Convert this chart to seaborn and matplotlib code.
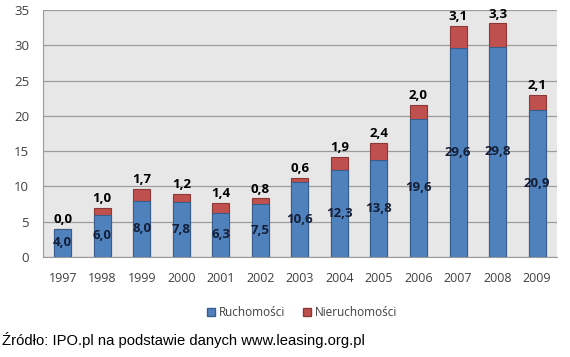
import matplotlib
matplotlib.use("Agg")
import matplotlib.pyplot as plt
import numpy as np
import pandas as pd
import seaborn as sns
from matplotlib.patches import Patch

YEARS = ["1997", "1998", "1999", "2000", "2001", "2002", "2003",
         "2004", "2005", "2006", "2007", "2008", "2009"]
RUCHOMOSCI = [4.0, 6.0, 8.0, 7.8, 6.3, 7.5, 10.6, 12.3, 13.8, 19.6, 29.6, 29.8, 20.9]
NIERUCHOMOSCI = [0.0, 1.0, 1.7, 1.2, 1.4, 0.8, 0.6, 1.9, 2.4, 2.0, 3.1, 3.3, 2.1]
Y_TICKS = [0, 5, 10, 15, 20, 25, 30, 35]

BLUE = "#4F81BD"
BLUE_EDGE = "#385D8A"
RED = "#C0504D"
RED_EDGE = "#8C3836"


def fmt(v):
    return f"{v:.1f}".replace(".", ",")


def main():
    sns.set_style("white")
    plt.rcParams["font.family"] = ["Open Sans", "DejaVu Sans"]

    df = pd.DataFrame({
        "Rok": YEARS,
        "Ruchomości": RUCHOMOSCI,
        "Nieruchomości": NIERUCHOMOSCI,
    })
    df["Razem"] = df["Ruchomości"] + df["Nieruchomości"]

    fig = plt.figure(figsize=(5.70, 3.57), dpi=100)
    ax = fig.add_axes([0.0754, 0.280, 0.9016, 0.692])
    ax.set_facecolor("#E7E7E7")

    sns.barplot(data=df, x="Rok", y="Razem", color=RED, saturation=1,
                width=0.43, edgecolor=RED_EDGE, linewidth=0.8, ax=ax, zorder=3)
    sns.barplot(data=df, x="Rok", y="Ruchomości", color=BLUE, saturation=1,
                width=0.43, edgecolor=BLUE_EDGE, linewidth=0.8, ax=ax, zorder=4)

    for i, (b, r, t) in enumerate(zip(df["Ruchomości"], df["Nieruchomości"], df["Razem"])):
        ax.text(i, b / 2, fmt(b), ha="center", va="center", fontsize=9.5,
                fontweight="bold", color="#141E36", zorder=5)
        ax.text(i, t + 0.4, fmt(r), ha="center", va="bottom", fontsize=9.5,
                fontweight="bold", color="black", zorder=5)

    ax.set_ylim(0, 35)
    ax.set_xlim(-0.5, len(YEARS) - 0.5)
    ax.set_yticks(Y_TICKS)
    ax.set_yticklabels([str(v) for v in Y_TICKS], fontsize=9.5, color="#404040")
    ax.set_xticks(np.arange(len(YEARS)))
    ax.set_xticklabels(YEARS, fontsize=9, color="#404040")
    ax.tick_params(axis="x", length=0, pad=11)
    ax.set_xticks(np.arange(len(YEARS) + 1) - 0.5, minor=True)
    ax.tick_params(axis="x", which="minor", length=4, color="#9A9A9A", direction="out")
    ax.tick_params(axis="y", length=4, color="#9A9A9A", direction="out", pad=6)
    ax.set_xlabel("")
    ax.set_ylabel("")

    ax.yaxis.grid(True, color="#9C9C9C", linewidth=0.9, zorder=1)
    ax.set_axisbelow(True)
    for side in ["top", "right"]:
        ax.spines[side].set_visible(False)
    ax.spines["left"].set_color("#9A9A9A")
    ax.spines["bottom"].set_color("#9A9A9A")

    handles = [Patch(facecolor=BLUE, edgecolor=BLUE_EDGE, label="Ruchomości"),
               Patch(facecolor=RED, edgecolor=RED_EDGE, label="Nieruchomości")]
    fig.legend(handles=handles, loc="center", bbox_to_anchor=(0.53, 0.125), ncol=2,
               frameon=False, fontsize=8.5, handlelength=0.7, handleheight=0.7,
               handletextpad=0.3, columnspacing=1.5, labelcolor="#404040")

    fig.text(0.004, 0.035, "Źródło: IPO.pl na podstawie danych www.leasing.org.pl",
             fontsize=10.6, family=["Liberation Sans", "DejaVu Sans"], color="black")

    fig.savefig("out.png", dpi=100)


if __name__ == "__main__":
    main()
